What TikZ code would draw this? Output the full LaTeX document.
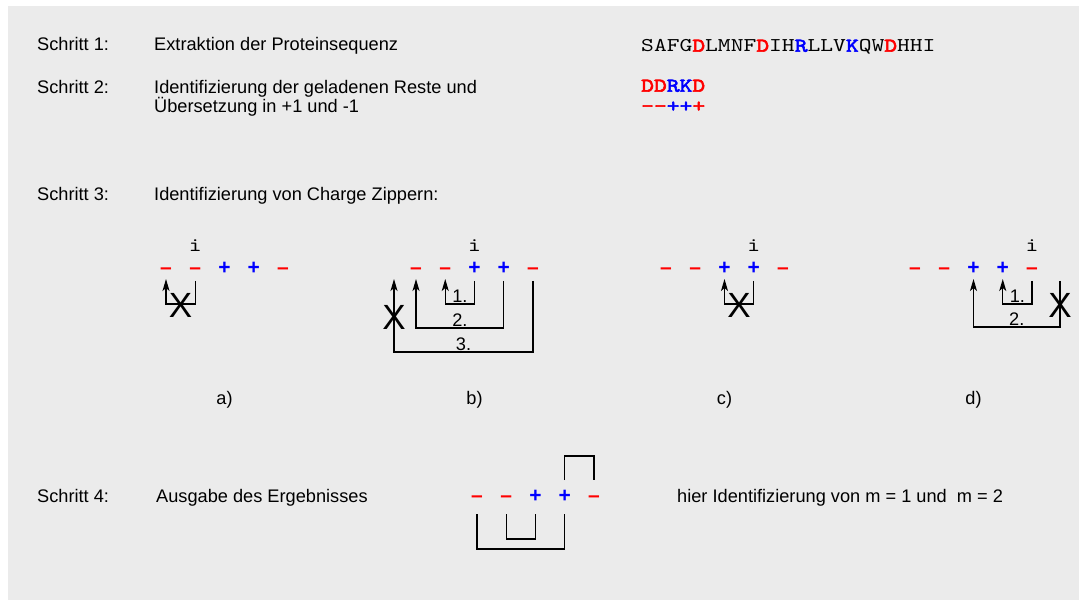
\documentclass[tikz,border=0pt]{standalone}
\usepackage{fontspec}
\setmainfont{Liberation Sans}
\newfontfamily\seqfont{lmmono10-regular.otf}[FakeStretch=1.25, BoldFont=lmmono10-regular.otf, BoldFeatures={FakeBold=3}]
\usetikzlibrary{arrows.meta,calc}

\definecolor{hgrund}{RGB}{235,235,235}
\definecolor{rot}{RGB}{255,0,0}
\definecolor{blau}{RGB}{0,0,255}
\newcommand{\rotb}[1]{\textcolor{rot}{\bfseries #1}}
\newcommand{\blaub}[1]{\textcolor{blau}{\bfseries #1}}

\tikzset{
  txt/.style={inner sep=0pt, anchor=base west, font=\fontsize{18.2}{22}\selectfont},
  seq/.style={inner sep=0pt, anchor=base west, font=\fontsize{19.5}{23}\seqfont},
  idx/.style={inner sep=0pt, anchor=base, font=\fontsize{19.5}{23}\seqfont},
  ladung/.style={inner sep=0pt, text height=13pt, text depth=0pt, font=\fontsize{21}{25}\selectfont\bfseries},
  ladminus/.style={ladung, text=rot},
  ladplus/.style={ladung, text=blau},
  kreuz/.style={inner sep=0pt, font=\fontsize{35}{40}\selectfont},
  nr/.style={midway, above, inner sep=1pt, font=\fontsize{18.2}{22}\selectfont},
  zip/.style={line width=1.2pt, -{Stealth[length=12pt,width=7pt,inset=3pt]}},
  klammer/.style={line width=1.2pt},
}

\begin{document}
\begin{tikzpicture}[x=1pt, y=-1pt]
    \useasboundingbox (0,0) rectangle (1079,601);
    \fill[white] (0,0) rectangle (1079,601);
    \fill[hgrund] (8,6) rectangle (1079,600);

    % Schritt 1
    \node[txt] (s1) at (37,50.7) {Schritt 1:};
    \node[txt] (t1) at (154,50.7) {Extraktion der Proteinsequenz};
    \node[seq] (seq) at (641,51.7) {SAFG\rotb{D}LMNF\rotb{D}IH\blaub{R}LLV\blaub{K}QW\rotb{D}HHI};

    % Schritt 2
    \node[txt] (s2) at (37,93.7) {Schritt 2:};
    \node[txt] (t2) at (154,93.7) {Identifizierung der geladenen Reste und};
    \node[txt] (t2b) at (154,112.3) {Übersetzung in +1 und -1};
    \node[seq] (reste) at (641,91.7) {\rotb{DD}\blaub{RK}\rotb{D}};
    \node[seq] (vorz) at (641,112) {\rotb{-{}-}\blaub{++}\rotb{+}};

    % Schritt 3
    \node[txt] (s3) at (37,200.7) {Schritt 3:};
    \node[txt] (t3) at (154,200.7) {Identifizierung von Charge Zippern:};

    % Fall a)
    \begin{scope}[shift={(166,268)}]
        \node[ladminus] (a1) at (0,0) {\textendash};
        \node[ladminus] (a2) at (29.25,0) {\textendash};
        \node[ladplus] (a3) at (58.5,0) {+};
        \node[ladplus] (a4) at (87.75,0) {+};
        \node[ladminus] (a5) at (117,0) {\textendash};
    \end{scope}
    \node[idx] (ia) at ($(a2)+(0,-16)$) {i};
    \draw[zip] ($(a2)+(0,13)$) -- ($(a2)+(0,36)$) -- ($(a1)+(0,36)$) -- ($(a1)+(0,11)$);
    \node[kreuz] (xa) at ($(a1)!0.5!(a2)+(0,37)$) {X};
    \node[txt, anchor=base] (la) at ($(a3)+(0,137)$) {a)};

    % Fall b)
    \begin{scope}[shift={(416,268)}]
        \node[ladminus] (b1) at (0,0) {\textendash};
        \node[ladminus] (b2) at (29.25,0) {\textendash};
        \node[ladplus] (b3) at (58.5,0) {+};
        \node[ladplus] (b4) at (87.75,0) {+};
        \node[ladminus] (b5) at (117,0) {\textendash};
    \end{scope}
    \node[idx] (ib) at ($(b3)+(0,-16)$) {i};
    \draw[zip] ($(b3)+(0,13)$) -- ($(b3)+(0,36)$) -- node[nr] {1.} ($(b2)+(0,36)$) -- ($(b2)+(0,11)$);
    \draw[zip] ($(b4)+(0,13)$) -- ($(b4)+(0,60)$) -- node[nr] {2.} ($(b1)+(0,60)$) -- ($(b1)+(0,11)$);
    \draw[zip] ($(b5)+(0,13)$) -- ($(b5)+(0,84)$) -- node[nr] {3.} ($(b1)+(-22,84)$) -- ($(b1)+(-22,11)$);
    \node[kreuz] (xb) at ($(b1)+(-22,49)$) {X};
    \node[txt, anchor=base] (lb) at ($(b3)+(0,137)$) {b)};

    % Fall c)
    \begin{scope}[shift={(666,268)}]
        \node[ladminus] (c1) at (0,0) {\textendash};
        \node[ladminus] (c2) at (29.25,0) {\textendash};
        \node[ladplus] (c3) at (58.5,0) {+};
        \node[ladplus] (c4) at (87.75,0) {+};
        \node[ladminus] (c5) at (117,0) {\textendash};
    \end{scope}
    \node[idx] (ic) at ($(c4)+(0,-16)$) {i};
    \draw[zip] ($(c4)+(0,13)$) -- ($(c4)+(0,36)$) -- ($(c3)+(0,36)$) -- ($(c3)+(0,11)$);
    \node[kreuz] (xc) at ($(c3)!0.5!(c4)+(0,37)$) {X};
    \node[txt, anchor=base] (lc) at ($(c3)+(0,137)$) {c)};

    % Fall d)
    \begin{scope}[shift={(915,268)}]
        \node[ladminus] (d1) at (0,0) {\textendash};
        \node[ladminus] (d2) at (29.25,0) {\textendash};
        \node[ladplus] (d3) at (58.5,0) {+};
        \node[ladplus] (d4) at (87.75,0) {+};
        \node[ladminus] (d5) at (117,0) {\textendash};
    \end{scope}
    \node[idx] (id) at ($(d5)+(0,-16)$) {i};
    \draw[zip] ($(d5)+(0,13)$) -- ($(d5)+(0,36)$) -- node[nr] {1.} ($(d4)+(0,36)$) -- ($(d4)+(0,11)$);
    \draw[zip] ($(d5)+(28,13)$) -- ($(d5)+(28,59)$) -- node[nr] {2.} ($(d3)+(0,59)$) -- ($(d3)+(0,11)$);
    \node[kreuz] (xd) at ($(d5)+(28,37)$) {X};
    \node[txt, anchor=base] (ld) at ($(d3)+(0,137)$) {d)};

    % Schritt 4
    \node[txt] (s4) at (37,502.5) {Schritt 4:};
    \node[txt] (t4) at (156,502.5) {Ausgabe des Ergebnisses};
    \begin{scope}[shift={(477,496)}]
        \node[ladminus] (e1) at (0,0) {\textendash};
        \node[ladminus] (e2) at (29.25,0) {\textendash};
        \node[ladplus] (e3) at (58.5,0) {+};
        \node[ladplus] (e4) at (87.75,0) {+};
        \node[ladminus] (e5) at (117,0) {\textendash};
    \end{scope}
    \draw[klammer] ($(e4)+(0,-16)$) -- ($(e4)+(0,-40)$) -- ($(e5)+(0,-40)$) -- ($(e5)+(0,-16)$);
    \draw[klammer] ($(e2)+(0,18)$) -- ($(e2)+(0,43)$) -- ($(e3)+(0,43)$) -- ($(e3)+(0,18)$);
    \draw[klammer] ($(e1)+(0,18)$) -- ($(e1)+(0,53)$) -- ($(e4)+(0,53)$) -- ($(e4)+(0,18)$);
    \node[txt] (erg) at (677,502.5) {hier Identifizierung von m = 1 und~ m = 2};
\end{tikzpicture}
\end{document}
